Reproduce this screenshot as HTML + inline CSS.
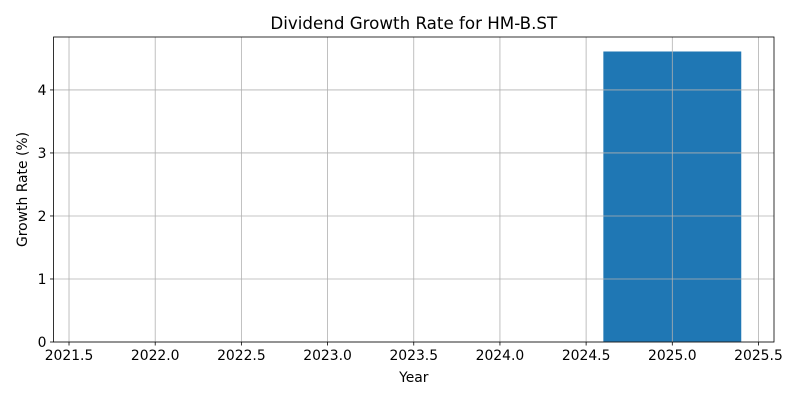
<!DOCTYPE html>
<html><head><meta charset="utf-8"><style>
body{margin:0;background:#fff;}
svg text{font-family:"DejaVu Sans","Liberation Sans",sans-serif;fill:#000;}
</style></head><body>
<svg id="chart" width="800" height="400">
<rect x="0" y="0" width="800" height="400" fill="#fff"/>
<text x="413.8" y="29" font-size="16.7" text-anchor="middle">Dividend Growth Rate for HM-B.ST</text>
<g id="bars"></g>
<g id="grid"></g>
<g id="axes"></g>
<text x="413.8" y="382" font-size="13.9" text-anchor="middle">Year</text>
<text transform="translate(27,189.5) rotate(-90)" font-size="13.9" text-anchor="middle">Growth Rate (%)</text>
</svg>
<script>
const years = [2022, 2023, 2024, 2025];
const growth = [0, 0, 0, 4.61];
const xTicks = [2021.5, 2022.0, 2022.5, 2023.0, 2023.5, 2024.0, 2024.5, 2025.0, 2025.5];
const yTicks = [0, 1, 2, 3, 4];

const L=53.5,R=774,T=37,B=342;
const xMin=2021.41,xMax=2025.59,yMin=0,yMax=4.84;
const X=v=>L+(v-xMin)/(xMax-xMin)*(R-L);
const Y=v=>B-(v-yMin)/(yMax-yMin)*(B-T);
const NS="http://www.w3.org/2000/svg";
function mk(tag,attrs,parent){const e=document.createElementNS(NS,tag);for(const k in attrs)e.setAttribute(k,attrs[k]);parent.appendChild(e);return e;}
const grid=document.getElementById('grid'),bars=document.getElementById('bars'),axes=document.getElementById('axes');

years.forEach((yr,i)=>{
  const v=growth[i];
  const r=mk('rect',{x:X(yr-0.4),y:Y(v),width:X(yr+0.4)-X(yr-0.4),height:Y(0)-Y(v),fill:'#1f77b4'},bars);
  
  
});
xTicks.forEach(t=>{
  const g=mk('line',{x1:X(t),x2:X(t),y1:T,y2:B,stroke:'#b0b0b0','stroke-width':0.8},grid);
  
  
  mk('line',{x1:X(t),x2:X(t),y1:B,y2:B+3.5,stroke:'#000','stroke-width':0.8},axes);
  const tx=mk('text',{x:X(t),y:B+18,'font-size':13.9,'text-anchor':'middle'},axes);
  tx.textContent=t.toFixed(1);
  
  
});
yTicks.forEach(t=>{
  const g=mk('line',{x1:L,x2:R,y1:Y(t),y2:Y(t),stroke:'#b0b0b0','stroke-width':0.8},grid);
  
  
  mk('line',{x1:L-3.5,x2:L,y1:Y(t),y2:Y(t),stroke:'#000','stroke-width':0.8},axes);
  const tx=mk('text',{x:L-7,y:Y(t)+5,'font-size':13.9,'text-anchor':'end'},axes);
  tx.textContent=String(t);
  
  
});
const frame=mk('rect',{x:L,y:T,width:R-L,height:B-T,fill:'none',stroke:'#000','stroke-width':0.8},axes);


</script>
</body></html>
